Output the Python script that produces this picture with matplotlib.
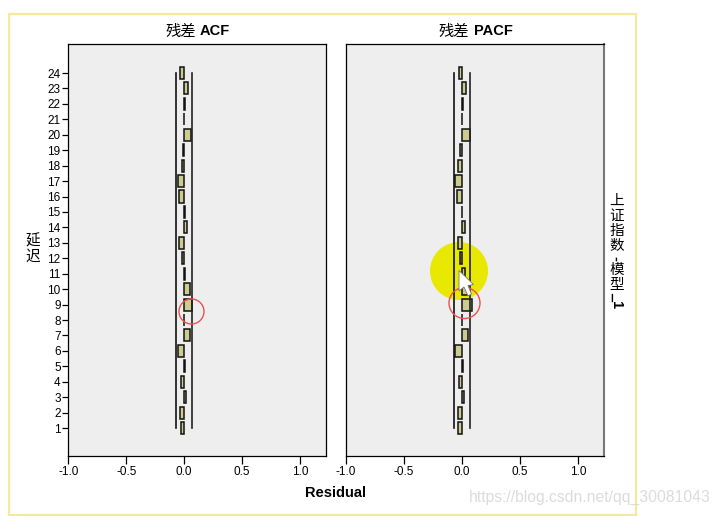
import matplotlib
matplotlib.use("Agg")
import matplotlib.pyplot as plt
from matplotlib.patches import Rectangle, Circle, Polygon
from matplotlib.transforms import IdentityTransform

LATIN = ['Liberation Sans', 'DejaVu Sans']
CJK = ['Noto Sans CJK SC', 'DejaVu Sans']
plt.rcParams['font.family'] = LATIN

lags = list(range(1, 25))
acf = [-0.028, -0.035, 0.02, -0.023, 0.008, -0.055, 0.05, -0.004, 0.07, 0.05, 0.007, -0.02,
       -0.045, 0.028, 0.004, -0.043, -0.05, -0.015, -0.008, 0.063, -0.005, 0.005, 0.032, -0.035]
pacf = [-0.03, -0.035, 0.02, -0.023, 0.005, -0.06, 0.05, -0.003, 0.083, 0.05, 0.025, -0.02,
        -0.035, 0.023, 0.003, -0.04, -0.06, -0.03, -0.02, 0.066, -0.003, 0.005, 0.032, -0.023]
ci = 0.067
xticks = [-1.0, -0.5, 0.0, 0.5, 1.0]

W, H = 720, 516
fig = plt.figure(figsize=(W/100, H/100), dpi=100, facecolor='white')

def rect(x0, y0, x1, y1):
    return [x0/W, 1-y1/H, (x1-x0)/W, (y1-y0)/H]
def fx(x): return x/W
def fy(y): return 1-y/H

axes = [fig.add_axes(rect(68.3, 44, 326, 456)), fig.add_axes(rect(346, 44, 604, 456))]
for ax, vals in zip(axes, [acf, pacf]):
    ax.set_facecolor('#eeeeee')
    ax.barh(lags, vals, height=0.78, color='#cccc8f', edgecolor='#111111', linewidth=1.1, zorder=3)
    ax.plot([-ci, -ci], [lags[0], lags[-1]], color='#111111', lw=1.2, zorder=4)
    ax.plot([ci, ci], [lags[0], lags[-1]], color='#222222', lw=1.2, zorder=4)
    ax.set_xlim(-1.0, 1.225)
    ax.set_ylim(-0.81, 25.88)
    ax.set_xticks(xticks)
    ax.set_xticklabels([f'{t:.1f}' for t in xticks], fontsize=8.5)
    ax.tick_params(axis='x', length=5.8, width=0.9, pad=1.5)
    for s in ax.spines.values():
        s.set_linewidth(0.9)
axes[1].spines['right'].set_color('#777777')
axes[1].spines['right'].set_linewidth(1.5)
axes[0].set_yticks(lags)
axes[0].set_yticklabels([str(l) for l in lags], fontsize=8.5)
axes[0].tick_params(axis='y', length=4.5, width=0.9, pad=1)
axes[1].set_yticks([])

# panel titles: CJK part in regular weight, Latin part in bold
fig.text(fx(181), fy(31), '残差', ha='center', va='center', fontsize=11, family=CJK)
fig.text(fx(215), fy(31), 'ACF', ha='center', va='center', fontsize=10.5, fontweight='bold')
fig.text(fx(454), fy(31), '残差', ha='center', va='center', fontsize=11, family=CJK)
fig.text(fx(493), fy(31), 'PACF', ha='center', va='center', fontsize=10.5, fontweight='bold')

# y axis label, stacked as one text
fig.text(fx(33), fy(249), '延\n迟', ha='center', va='center', fontsize=10.5, family=CJK, linespacing=1.08)
# x axis label
fig.text(fx(336), fy(493), 'Residual', ha='center', va='center', fontsize=10.5, fontweight='bold')
# right panel label, stacked texts
fig.text(fx(617), fy(223.5), '上\n证\n指\n数', ha='center', va='center', fontsize=10.5, family=CJK, linespacing=1.08)
fig.text(fx(616), fy(259), '-', ha='center', va='center', rotation=270, fontsize=10.5, fontweight='bold')
fig.text(fx(617), fy(277.5), '模\n型', ha='center', va='center', fontsize=10.5, family=CJK, linespacing=1.08)
fig.text(fx(617), fy(300), '_1', ha='center', va='center', rotation=270, fontsize=10.5, fontweight='bold')

# screenshot frame and overlays
fig.add_artist(Rectangle((fx(8.5), fy(515)), 627.5/W, 501.5/H, transform=fig.transFigure,
                         fill=False, edgecolor='#f8e89c', lw=1.6))
axes[1].add_patch(Circle((459, H-271), 29, transform=IdentityTransform(), facecolor='#e8e800',
                         edgecolor='none', zorder=2))
fig.add_artist(Circle((191.5, H-311.5), 12.5, transform=None, fill=False, edgecolor='#f05050', lw=1.0, zorder=6))
fig.add_artist(Circle((464.5, H-303), 15.5, transform=None, fill=False, edgecolor='#f05050', lw=1.0, zorder=6))
cursor = [(459, 270.5), (459, 291), (464, 287), (468, 296), (471.5, 294), (468, 285.5), (473.5, 284.5)]
fig.add_artist(Polygon([(x, H-y) for x, y in cursor], closed=True, transform=None,
                       facecolor='white', edgecolor='#777777', lw=0.6, zorder=7))
fig.text(fx(711), fy(497), 'https://blog.csdn.net/qq_30081043', ha='right', va='center',
         fontsize=11.3, color='#dcdcdc', zorder=8)

fig.savefig('out.png', dpi=100)
